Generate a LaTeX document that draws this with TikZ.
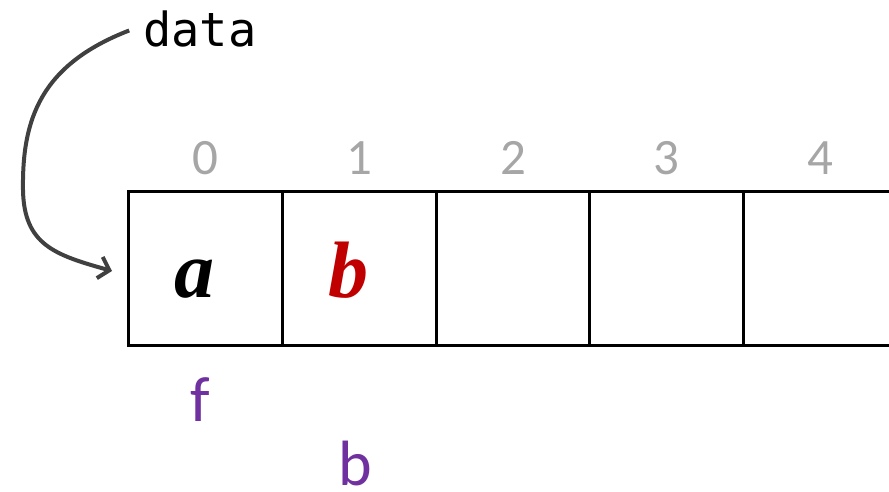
\documentclass[tikz,border=0pt]{standalone}
\usepackage{fontspec}
\setmainfont{Carlito}
\newfontfamily\monof{DejaVu Sans Mono}
\newfontfamily\serifbi{Liberation Serif}
\usetikzlibrary{arrows.meta}
\definecolor{idxgray}{HTML}{A6A6A6}
\definecolor{valred}{HTML}{C00000}
\definecolor{ptrpurple}{HTML}{7030A0}
\definecolor{arrgray}{HTML}{404040}
\tikzset{
  cellbox/.style={draw=black, line width=3pt, minimum width=153.75pt, minimum height=154pt, inner sep=0pt, outer sep=0pt},
  idxlabel/.style={text=idxgray, font=\fontsize{51}{56}\selectfont, inner sep=0pt},
  vallabel/.style={font=\serifbi\bfseries\itshape\fontsize{80}{88}\selectfont, inner sep=0pt},
  ptrlabel/.style={text=ptrpurple, font=\fontsize{64}{70}\selectfont, inner sep=0pt},
  datalabel/.style={font=\monof\fontsize{47}{52}\selectfont, inner sep=0pt},
  ptrarrow/.style={draw=arrgray, line width=4pt, -{Straight Barb[length=10pt,width=22pt,line width=4pt]}}
}
\begin{document}
\begin{tikzpicture}[x=1pt,y=-1pt]
\useasboundingbox (0,0) rectangle (889,492);
\node[cellbox] (c0) at (205.5,268) {};
\node[cellbox] (c1) at (359.25,268) {};
\node[cellbox] (c2) at (513,268) {};
\node[cellbox] (c3) at (666.75,268) {};
\node[cellbox] (c4) at (820.5,268) {};
\node[idxlabel] (i0) at (205,158) {0};
\node[idxlabel] (i1) at (359,158) {1};
\node[idxlabel] (i2) at (513,158) {2};
\node[idxlabel] (i3) at (666,158) {3};
\node[idxlabel] (i4) at (820,158) {4};
\node[vallabel, anchor=base] (va) at (194,297) {a};
\node[vallabel, anchor=base, text=valred] (vb) at (348,297) {b};
\node[ptrlabel, anchor=base] (pf) at (200,421) {f};
\node[ptrlabel, anchor=base] (pb) at (355,485) {b};
\node[datalabel, anchor=base] (data) at (200,47) {data};
\coordinate (tip) at (112,271);
\draw[ptrarrow] ([xshift=-14pt,yshift=-1pt]data.west) .. controls (40,65) and (22,120) .. (23,190) .. controls (24,245) and (55,255) .. (tip);
\end{tikzpicture}
\end{document}
